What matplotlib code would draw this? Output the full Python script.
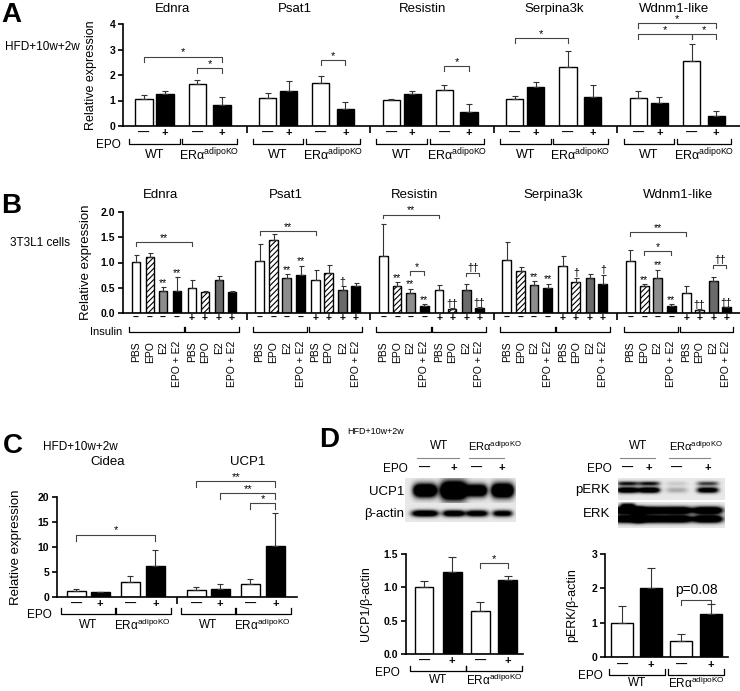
import numpy as np
import matplotlib
matplotlib.use("Agg")
import matplotlib.pyplot as plt
from matplotlib.transforms import blended_transform_factory
from matplotlib.lines import Line2D

plt.rcParams['font.family'] = ['Liberation Sans', 'DejaVu Sans']
plt.rcParams['mathtext.fontset'] = 'custom'
plt.rcParams['mathtext.rm'] = 'Liberation Sans'
plt.rcParams['hatch.linewidth'] = 0.8

# ---------------- data ----------------
genes_a = ["Ednra", "Psat1", "Resistin", "Serpina3k", "Wdnm1-like"]
a_mean = [[1.05, 1.27, 1.65, 0.83],
          [1.08, 1.38, 1.70, 0.65],
          [1.02, 1.24, 1.41, 0.56],
          [1.05, 1.52, 2.33, 1.12],
          [1.11, 0.92, 2.56, 0.41]]
a_err = [[0.18, 0.12, 0.15, 0.32],
         [0.22, 0.38, 0.27, 0.28],
         [0.05, 0.14, 0.20, 0.30],
         [0.13, 0.20, 0.63, 0.50],
         [0.27, 0.20, 0.65, 0.17]]
# (gene, bar_i, bar_j, height, label)
a_sig = [(0, 0, 3, 2.72, "*"), (0, 2, 3, 2.26, "*"), (1, 2, 3, 2.59, "*"),
         (2, 2, 3, 2.35, "*"), (3, 0, 2, 3.44, "*"), (4, 0, 3, 4.03, "*"),
         (4, 0, 2, 3.60, "*"), (4, 2, 3, 3.60, "*")]

b_conditions = ["PBS", "EPO", "E2", "EPO + E2"] * 2
b_insulin = ["–"] * 4 + ["+"] * 4
b_mean = [[1.01, 1.10, 0.43, 0.43, 0.50, 0.42, 0.65, 0.42],
          [1.03, 1.45, 0.70, 0.76, 0.65, 0.79, 0.45, 0.53],
          [1.12, 0.53, 0.40, 0.13, 0.45, 0.08, 0.45, 0.10],
          [1.04, 0.83, 0.56, 0.50, 0.94, 0.61, 0.70, 0.58],
          [1.02, 0.54, 0.70, 0.13, 0.40, 0.05, 0.63, 0.11]]
b_err = [[0.13, 0.09, 0.08, 0.28, 0.15, 0.01, 0.08, 0.01],
         [0.34, 0.11, 0.07, 0.18, 0.21, 0.16, 0.08, 0.07],
         [0.65, 0.08, 0.08, 0.04, 0.10, 0.02, 0.12, 0.02],
         [0.37, 0.09, 0.07, 0.08, 0.18, 0.09, 0.07, 0.18],
         [0.23, 0.03, 0.16, 0.04, 0.13, 0.02, 0.08, 0.01]]
b_sig = [(0, 0, 4, 1.40, "**"), (1, 0, 4, 1.62, "**"), (2, 0, 4, 1.95, "**"),
         (2, 2, 3, 0.83, "*"), (2, 6, 7, 0.80, "††"), (4, 0, 4, 1.60, "**"),
         (4, 1, 3, 1.22, "*"), (4, 6, 7, 0.96, "††")]
b_marks = [(0, 2, "**"), (0, 3, "**"), (1, 2, "**"), (1, 3, "**"), (1, 6, "†"),
           (2, 1, "**"), (2, 2, "**"), (2, 3, "**"), (2, 5, "††"), (2, 7, "††"),
           (3, 2, "**"), (3, 3, "**"), (3, 5, "†"), (3, 7, "†"),
           (4, 1, "**"), (4, 2, "**"), (4, 3, "**"), (4, 5, "††"), (4, 7, "††")]

genes_c = ["Cidea", "UCP1"]
c_mean = [[1.2, 1.0, 3.0, 6.2], [1.47, 1.67, 2.53, 10.3]]
c_err = [[0.45, 0.1, 1.3, 3.2], [0.63, 0.93, 1.14, 6.5]]
c_sig = [(0, 0, 3, 12.5, "*"), (1, 0, 3, 23.2, "**"), (1, 1, 3, 20.8, "**"),
         (1, 2, 3, 18.8, "*")]

d1_mean = [1.01, 1.235, 0.65, 1.11]
d1_err = [0.09, 0.215, 0.135, 0.065]
d1_sig = (2, 3, 1.36, "*")
d2_mean = [1.0, 2.0, 0.47, 1.24]
d2_err = [0.49, 0.59, 0.21, 0.29]
d2_sig = (2, 3, 1.66, "p=0.08")

epo_signs = ["—", "+", "—", "+"]
KO = r'$\mathrm{ER\alpha^{adipoKO}}$'
groups = ["WT", KO]

# western blot band intensities per lane
ucp1_amp = [2.0, 2.2, 1.8, 2.0]
ucp1_halfh = [0.26, 0.36, 0.24, 0.28]
ucp1_halfw = [0.105, 0.12, 0.09, 0.10]
actin_amp = [1.5, 1.4, 1.3, 1.2]
perk_upper = [0.9, 0.9, 0.12, 0.7]
perk_lower = [1.5, 1.5, 0.25, 1.3]
erk_amp = [1.7, 1.7, 1.7, 1.7]

# ---------------- layout ----------------
W, H = 740, 691
fig = plt.figure(figsize=(W / 100, H / 100), dpi=100)


def fy(py):
    return 1 - py / H


def px_axes(x0, y0, x1, y1):
    return fig.add_axes([x0 / W, 1 - y1 / H, (x1 - x0) / W, (y1 - y0) / H])


def ftext(x, y, s, **kw):
    return fig.text(x / W, fy(y), s, **kw)


def style_axes(ax, ylim, yticks, fmt, ngroups, seps=True):
    ax.set_xlim(0, ngroups)
    ax.set_ylim(*ylim)
    for s in ["top", "right"]:
        ax.spines[s].set_visible(False)
    for s in ["left", "bottom"]:
        ax.spines[s].set_linewidth(1.2)
    ax.set_yticks(yticks)
    ax.set_yticklabels([fmt.format(t) for t in yticks], fontweight="bold", fontsize=7.5)
    ax.set_xticks(list(range(1, ngroups)) if seps else [])
    ax.set_xticklabels([])
    ax.tick_params(axis="x", length=5, width=1.2)
    ax.tick_params(axis="y", length=3.5, width=1.2, pad=2)
    ax.set_facecolor("none")


def bars(ax, xs, means, errs, styles, width, capsize):
    for xi, m, st in zip(xs, means, styles):
        ax.bar(xi, m, width, lw=1.0, zorder=2, **st)
    ax.errorbar(xs, means, yerr=[np.zeros(len(errs)), errs], fmt="none", ecolor="#333",
                elinewidth=0.8, capsize=capsize, capthick=0.8, zorder=3)


def sig(ax, x1, x2, y, leg, label, fs=8, lift=0.8):
    ax.plot([x1, x1, x2, x2], [y - leg, y, y, y - leg], color="#444", lw=0.8, clip_on=False)
    ax.annotate(label, xy=((x1 + x2) / 2, y), xytext=(0, lift), textcoords="offset points",
                ha="center", va="baseline", fontsize=fs, annotation_clip=False)


def under(ax, x1, x2, ytop, ybot):
    tr = blended_transform_factory(ax.transData, fig.transFigure)
    ax.plot([x1, x1, x2, x2], [fy(ytop), fy(ybot), fy(ybot), fy(ytop)], transform=tr,
            color="k", lw=0.9, clip_on=False)


def ylabel_at(ax, text, xpx, x0, x1, fs):
    ax.set_ylabel(text, fontsize=fs)
    ax.yaxis.set_label_coords((xpx - x0) / (x1 - x0), 0.5)


def wt_ko_axis(ax, offs, pad, sign_y, br_top, br_bot, lab_y, fs_lab):
    tr = blended_transform_factory(ax.transData, fig.transFigure)
    for g, offset in enumerate(offs):
        xs = g + np.array(offset)
        for xi, s in zip(xs, epo_signs):
            ax.text(xi, fy(sign_y), s, transform=tr, ha="center", va="center",
                    fontsize=8, fontweight="bold")
        for k, lab in enumerate(groups):
            xa, xb = xs[2 * k] - pad, xs[2 * k + 1] + pad
            under(ax, xa, xb, br_top, br_bot)
            ax.text((xa + xb) / 2, fy(lab_y), lab, transform=tr, ha="center", va="center",
                    fontsize=fs_lab)


white = dict(color="white", edgecolor="black")
black = dict(color="black", edgecolor="black")
hatched = dict(color="white", edgecolor="black", hatch="//////")
grey = dict(color="#8d8d8d", edgecolor="black")
dgrey = dict(color="#6a6a6a", edgecolor="black")

# ---------------- panel A ----------------
offs_a = [0.17, 0.34, 0.60, 0.80]
axA = px_axes(123, 24, 741, 126)
style_axes(axA, (0, 4), [0, 1, 2, 3, 4], "{:.0f}", 5)
for g in range(5):
    xs = g + np.array(offs_a)
    bars(axA, xs, a_mean[g], a_err[g], [white, black, white, black], 0.14, 2.5)
for g, i, j, h, lab in a_sig:
    sig(axA, g + offs_a[i], g + offs_a[j], h, 0.2, lab)
title_dx_a = [0.40, 0.39, 0.42, 0.485, 0.46]
trA = blended_transform_factory(axA.transData, fig.transFigure)
for g, name in enumerate(genes_a):
    axA.text(g + title_dx_a[g], fy(9), name, transform=trA, ha="center", va="center", fontsize=9.5)
wt_ko_axis(axA, [offs_a] * 5, 0.12, 133, 139, 144, 155, 9)
ylabel_at(axA, "Relative expression", 97, 123, 741, 9)
ftext(121, 145, "EPO", ha="right", va="center", fontsize=8.5)
ftext(1, 22, "A", fontsize=20, fontweight="bold", va="baseline")
ftext(5, 47, "HFD+10w+2w", fontsize=8.5, va="center")

# ---------------- panel B ----------------
offs_b = [0.105, 0.218, 0.324, 0.437, 0.558, 0.663, 0.777, 0.882]
axB = px_axes(123, 212, 741, 313)
style_axes(axB, (0, 2), [0, 0.5, 1.0, 1.5, 2.0], "{:.1f}", 5)
styles_b = [white, hatched, grey, black, white, hatched, dgrey, black]
trB = blended_transform_factory(axB.transData, fig.transFigure)
for g in range(5):
    xs = g + np.array(offs_b)
    bars(axB, xs, b_mean[g], b_err[g], styles_b, 0.07, 1.8)
    for xi, s in zip(xs, b_insulin):
        axB.text(xi, fy(318), s, transform=trB, ha="center", va="center", fontsize=7.5,
                 fontweight="bold")
    for xi, s in zip(xs, b_conditions):
        axB.text(xi, fy(341), s, transform=trB, ha="center", va="top", rotation=90, fontsize=7.5)
    under(axB, xs[0] - 0.055, xs[3] + 0.055, 327, 332)
    under(axB, xs[4] - 0.055, xs[7] + 0.055, 327, 332)
for g, i, j, h, lab in b_sig:
    sig(axB, g + offs_b[i], g + offs_b[j], h, 0.07, lab, fs=7.5)
for g, i, lab in b_marks:
    axB.annotate(lab, xy=(g + offs_b[i], b_mean[g][i] + b_err[g][i]), xytext=(0, 1),
                 textcoords="offset points", ha="center", va="baseline", fontsize=7.5)
title_dx_b = [0.30, 0.32, 0.36, 0.48, 0.49]
for g, name in enumerate(genes_a):
    axB.text(g + title_dx_b[g], fy(195), name, transform=trB, ha="center", va="center", fontsize=9.5)
ylabel_at(axB, "Relative expression", 92, 123, 741, 9.5)
ftext(122, 332, "Insulin", ha="right", va="center", fontsize=8)
ftext(1, 213, "B", fontsize=20, fontweight="bold", va="baseline")
ftext(10, 243, "3T3L1 cells", fontsize=8.5, va="center")

# ---------------- panel C ----------------
offs_c = [0.16, 0.36, 0.61, 0.82]
axC = px_axes(57, 497, 297, 597)
style_axes(axC, (0, 20), [0, 5, 10, 15, 20], "{:.0f}", 2)
for g in range(2):
    xs = g + np.array(offs_c)
    bars(axC, xs, c_mean[g], c_err[g], [white, black, white, black], 0.16, 2.5)
for g, i, j, h, lab in c_sig:
    sig(axC, g + offs_c[i], g + offs_c[j], h, 1.2, lab)
trC = blended_transform_factory(axC.transData, fig.transFigure)
title_dx_c = [0.425, 0.59]
for g, name in enumerate(genes_c):
    axC.text(g + title_dx_c[g], fy(462), name, transform=trC, ha="center", va="center", fontsize=9.5)
wt_ko_axis(axC, [offs_c] * 2, 0.13, 604, 608, 614, 625, 8.5)
ylabel_at(axC, "Relative expression", 22, 57, 297, 9.5)
ftext(52, 615, "EPO", ha="right", va="center", fontsize=8.5)
ftext(3, 453, "C", fontsize=20, fontweight="bold", va="baseline")
ftext(43, 447, "HFD+10w+2w", fontsize=8.5, va="center")

# ---------------- panel D ----------------
ftext(319, 447, "D", fontsize=20, fontweight="bold", va="baseline")
ftext(347, 432, "HFD+10w+2w", fontsize=6.5, va="center")

offs_d1 = [0.155, 0.395, 0.635, 0.87]
axD1 = px_axes(406, 554, 523, 654)
style_axes(axD1, (0, 1.5), [0, 0.5, 1.0, 1.5], "{:.1f}", 1, seps=False)
bars(axD1, np.array(offs_d1), d1_mean, d1_err, [white, black, white, black], 0.16, 3)
i, j, h, lab = d1_sig
sig(axD1, offs_d1[i], offs_d1[j], h, 0.07, lab)
wt_ko_axis(axD1, [offs_d1], 0.12, 661, 666, 671, 680, 8.5)
ylabel_at(axD1, "UCP1/β-actin", 372, 406, 523, 9)
ftext(400, 673, "EPO", ha="right", va="center", fontsize=8.5)

offs_d2 = [0.14, 0.375, 0.62, 0.86]
axD2 = px_axes(605, 554, 728, 657)
style_axes(axD2, (0, 3), [0, 1, 2, 3], "{:.0f}", 1, seps=False)
bars(axD2, np.array(offs_d2), d2_mean, d2_err, [white, black, white, black], 0.18, 3)
i, j, h, lab = d2_sig
sig(axD2, offs_d2[i], offs_d2[j], h, 0.15, lab, fs=10, lift=4)
wt_ko_axis(axD2, [offs_d2], 0.11, 665, 669, 675, 683, 8.5)
ylabel_at(axD2, "pERK/β-actin", 578, 605, 728, 9)
ftext(603, 676, "EPO", ha="right", va="center", fontsize=8.5)


# ---------------- blots ----------------
def blot(ax, lane_x, bands):
    yy, xx = np.mgrid[0:1:80j, 0:1:300j]
    img = np.full(yy.shape, 0.09)
    for yc, amps, hw, hh in bands:
        for xc, a, w, h in zip(lane_x, amps, hw, hh):
            img += a * np.exp(-((xx - xc) / w) ** 4 - ((yy - yc) / h) ** 2)
    ax.imshow(np.clip(img, 0, 1), cmap="gray_r", vmin=0, vmax=1, aspect="auto",
              extent=[0, 1, 1, 0], interpolation="bilinear")
    ax.axis("off")


lanes_l = [0.18, 0.44, 0.65, 0.88]
axU = px_axes(405, 478, 515, 503)
blot(axU, lanes_l, [(0.5, ucp1_amp, ucp1_halfw, ucp1_halfh)])
axAc = px_axes(405, 503, 515, 522)
blot(axAc, lanes_l, [(0.55, actin_amp, [0.12, 0.1, 0.1, 0.09], [0.17] * 4)])

lanes_r = [0.09, 0.29, 0.55, 0.84]
axP = px_axes(618, 478, 725, 500)
blot(axP, lanes_r, [(0.25, perk_upper, [0.1] * 4, [0.1] * 4),
                    (0.55, perk_lower, [0.1] * 4, [0.13] * 4)])
axE = px_axes(618, 502, 725, 528)
blot(axE, lanes_r, [(0.32, erk_amp, [0.14] * 4, [0.14] * 4),
                    (0.66, erk_amp, [0.14] * 4, [0.14] * 4),
                    (0.12, [0.9, 0, 0, 0], [0.07] * 4, [0.09] * 4)])

ftext(404, 492, "UCP1", ha="right", va="center", fontsize=9.5)
ftext(404, 514, "β-actin", ha="right", va="center", fontsize=9.5)
ftext(610, 490, "pERK", ha="right", va="center", fontsize=9.5)
ftext(610, 514, "ERK", ha="right", va="center", fontsize=9.5)

for x0, x1, lanes, epo_x in [(405, 515, lanes_l, 408), (618, 725, lanes_r, 612)]:
    lane_px = [x0 + l * (x1 - x0) for l in lanes]
    wt_c = (lane_px[0] + lane_px[1]) / 2
    for xa, xb in [(lane_px[0] - 8, lane_px[1] + 6), (lane_px[2] - 8, lane_px[3] + 2)]:
        fig.add_artist(Line2D([xa / W, xb / W], [fy(458), fy(458)], color="#888", lw=0.8))
    ftext(wt_c, 446, "WT", ha="center", va="center", fontsize=8.5)
    ftext(lane_px[2] - 8, 446, KO, ha="left", va="center", fontsize=8)
    for xp, s in zip(lane_px, epo_signs):
        ftext(xp, 468, s, ha="center", va="center", fontsize=8, fontweight="bold")
    ftext(epo_x, 469, "EPO", ha="right", va="center", fontsize=8.5)

fig.savefig("out.png", dpi=100)
